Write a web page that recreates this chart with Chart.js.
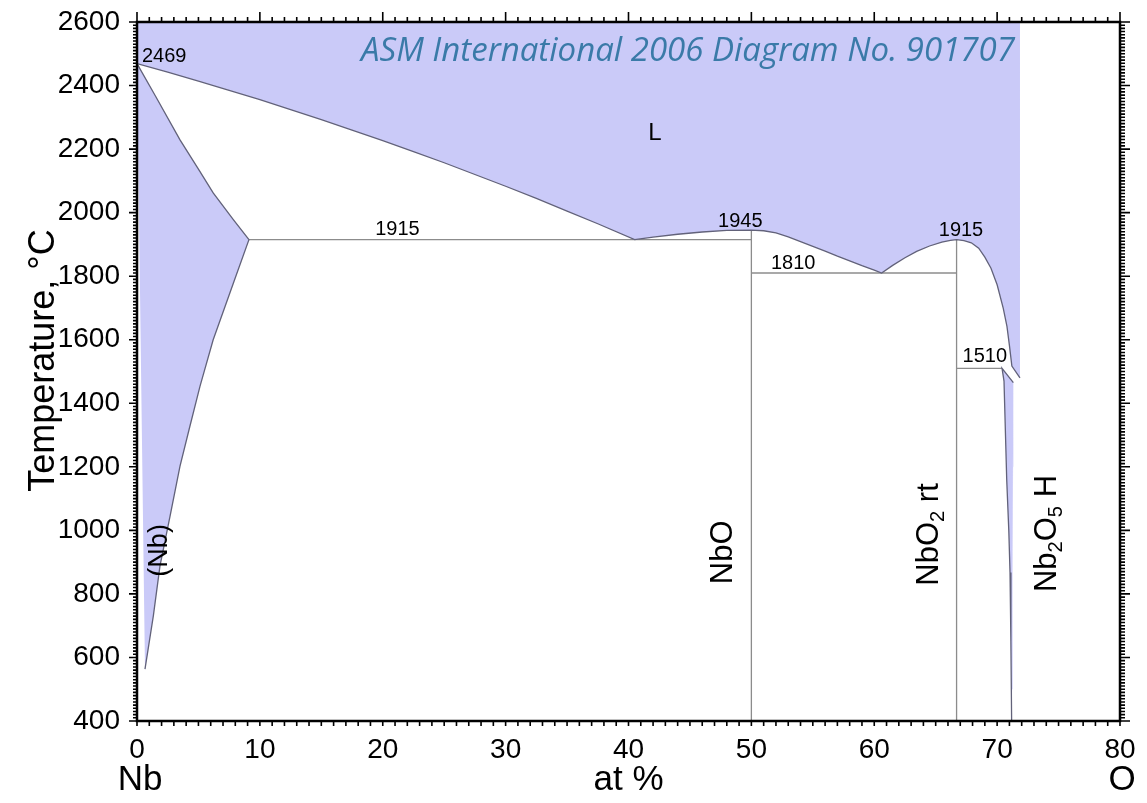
<!DOCTYPE html>
<html>
<head>
<meta charset="utf-8">
<script src="https://cdn.jsdelivr.net/npm/chart.js@4.4.0/dist/chart.umd.min.js"></script>
<style>
  body { margin: 0; background: #fff; }
  #plotGraph { display: block; }
</style>
</head>
<body>
<canvas id="plotGraph" width="1147" height="803"></canvas>
<script>
// Nb-O 状態図 (x: at% O, y: 温度 °C)
const liquidusX = [0, 2.5, 5, 7.5, 10, 12.5, 15, 17.5, 20, 22.5, 25, 27.5, 30, 32.5, 35, 37.5, 40.5,
  42, 44, 46, 48, 50, 51, 52, 53, 54, 55, 56, 57, 58, 59, 60, 60.6,
  61.5, 62.5, 63.45, 64.5, 65.5, 66.2, 66.7, 67.3, 67.9, 68.5, 69, 69.5, 70, 70.5, 70.8, 71, 71.2, 71.86]
const liquidusT = [2469, 2442, 2414, 2385, 2356, 2324, 2293, 2260, 2227, 2192, 2157, 2120, 2083, 2045, 2005, 1965, 1915,
  1923, 1932, 1939, 1944, 1945, 1943, 1936, 1924, 1909, 1894, 1879, 1863, 1848, 1833, 1819, 1810,
  1834, 1858, 1878, 1895, 1907, 1913, 1915, 1912, 1905, 1888, 1860, 1825, 1773, 1699, 1642, 1582, 1517, 1480]

const solidusX = [0, 1.5, 3.5, 5, 6.2, 7.84, 9.11]
const solidusT = [2469, 2367, 2229, 2137, 2062, 1978, 1915]
const solvusX = [7.84, 6.2, 5.13, 4.3, 3.5, 2.69, 1.87, 1.33, 0.65, 0]
const solvusT = [1778, 1600, 1454, 1327, 1202, 1045, 888, 731, 563, 563]

const nb2o5LeftX = [71.32, 70.4, 70.56, 70.78, 70.95, 71.05, 71.12, 71.18]
const nb2o5LeftT = [1465, 1510, 1470, 1160, 1000, 867, 650, 400]
const nb2o5RightX = [71.22, 71.25, 71.27, 71.3, 71.32]
const nb2o5RightT = [500, 700, 867, 1200, 1465]

const isoT = [1915, 1810, 1510]
const isoFrom = [9.11, 50, 66.7]
const isoTo = [50, 66.7, 70.4]

const compoundX = [50, 66.7]
const compoundTop = [1945, 1915]

const atMin = 0, atMax = 80, atMajor = 10
const tMin = 400, tMax = 2600, tMajor = 200

const noteText = ['2469', '1915', '1945', '1810', '1915', '1510', 'L']
const noteX = [2.21, 21.2, 49.1, 53.4, 67.06, 69.0, 42.15]
const noteT = [2493, 1948, 1972, 1840, 1943, 1546, 2251]

const phaseParts = [
  [['(Nb)']],
  [['NbO']],
  [['NbO'], ['2', 1], [' rt']],
  [['Nb'], ['2', 1], ['O'], ['5', 1], [' H']]
]
const phaseX = [1.8, 47.7, 64.5, 74.1]
const phaseT = [937, 931, 987, 990]

const sourceText = 'ASM International 2006 Diagram No. 901707'
const sourceX = 44.84, sourceT = 2478

const FILL = 'rgb(202,202,248)'
const CURVE = '#62627a'
const GRAYLINE = '#8c8c8c'
const FONT = '"Liberation Sans", Arial, Helvetica, sans-serif'

function pts(xs, ys) {
  return xs.map((x, i) => ({ x: x, y: ys[i] }))
}

// テキスト、下付き文字
function drawParts(ctx, parts, size) {
  let w = 0
  parts.forEach(p => {
    ctx.font = (p[1] ? size * 0.65 : size) + 'px ' + FONT
    w += ctx.measureText(p[0]).width
  })
  let cx = -w / 2
  parts.forEach(p => {
    ctx.font = (p[1] ? size * 0.65 : size) + 'px ' + FONT
    ctx.fillText(p[0], cx, p[1] ? size * 0.28 : 0)
    cx += ctx.measureText(p[0]).width
  })
}

const notesPlugin = {
  id: 'notes',
  afterDatasetsDraw(chart) {
    const { ctx, chartArea: a } = chart
    const xs = chart.scales.x, ys = chart.scales.y
    ctx.save()
    ctx.fillStyle = '#000'
    ctx.textAlign = 'center'
    ctx.textBaseline = 'middle'
    noteText.forEach((t, i) => {
      ctx.font = (t === 'L' ? 24 : 20) + 'px ' + FONT
      ctx.fillText(t, xs.getPixelForValue(noteX[i]), ys.getPixelForValue(noteT[i]))
    })
    ctx.textAlign = 'left'
    phaseParts.forEach((parts, i) => {
      ctx.save()
      ctx.translate(xs.getPixelForValue(phaseX[i]), ys.getPixelForValue(phaseT[i]))
      ctx.rotate(-Math.PI / 2)
      drawParts(ctx, parts, i === 0 ? 27 : 31)
      ctx.restore()
    })
    ctx.font = 'italic 33px "Open Sans", sans-serif'
    ctx.fillStyle = '#3a7aa8'
    ctx.textAlign = 'center'
    ctx.textBaseline = 'alphabetic'
    ctx.fillText(sourceText, xs.getPixelForValue(sourceX), ys.getPixelForValue(sourceT))
    // 軸タイトルと端成分
    ctx.fillStyle = '#000'
    ctx.font = '36px ' + FONT
    ctx.textAlign = 'center'
    ctx.textBaseline = 'middle'
    ctx.save()
    ctx.translate(44, (a.top + a.bottom) / 2 - 11)
    ctx.rotate(-Math.PI / 2)
    ctx.fillText('Temperature, °C', 0, 0)
    ctx.restore()
    ctx.font = '35px ' + FONT
    ctx.fillText('Nb', xs.getPixelForValue(atMin) + 3, 780)
    ctx.fillText('O', xs.getPixelForValue(atMax) + 2, 780)
    ctx.restore()
  }
}

const framePlugin = {
  id: 'frame',
  afterDraw(chart) {
    const { ctx, chartArea: a } = chart
    const xs = chart.scales.x, ys = chart.scales.y
    ctx.save()
    ctx.strokeStyle = '#000'
    ctx.lineWidth = 1.6
    ctx.beginPath()
    xs.ticks.forEach(t => {
      const px = xs.getPixelForValue(t.value)
      const major = t.value % atMajor === 0
      ctx.moveTo(px, a.bottom); ctx.lineTo(px, a.bottom + 5)
      ctx.moveTo(px, a.top); ctx.lineTo(px, a.top - (major ? 10 : 5))
    })
    ys.ticks.forEach(t => {
      const py = ys.getPixelForValue(t.value)
      const major = t.value % tMajor === 0
      ctx.moveTo(a.left, py); ctx.lineTo(a.left - (major ? 8 : 4), py)
      ctx.moveTo(a.right, py); ctx.lineTo(a.right + (major ? 10 : 5), py)
    })
    ctx.stroke()
    ctx.lineWidth = 2.5
    ctx.strokeRect(a.left, a.top, a.right - a.left, a.bottom - a.top)
    ctx.restore()
  }
}

const datasets = []
// 液相 L
datasets.push({
  data: pts(liquidusX, liquidusT),
  fill: 'end',
  backgroundColor: FILL,
  borderColor: CURVE,
  borderWidth: 1.3
})
// (Nb) 固溶体
datasets.push({
  data: pts(solidusX, solidusT).concat(pts(solvusX, solvusT)),
  fill: 'shape',
  backgroundColor: FILL,
  borderColor: CURVE,
  borderWidth: 1.3,
  segment: { borderColor: c => (c.p1.parsed.x === 0 ? 'transparent' : undefined) }
})
// Nb2O5 H
const nLeft = nb2o5LeftX.length
datasets.push({
  data: pts(nb2o5LeftX, nb2o5LeftT).concat(pts(nb2o5RightX, nb2o5RightT)),
  fill: 'shape',
  backgroundColor: FILL,
  borderColor: CURVE,
  borderWidth: 1.3,
  segment: { borderColor: c => (c.p0DataIndex >= nLeft - 1 ? 'transparent' : undefined) }
})
isoT.forEach((t, i) => {
  datasets.push({
    data: pts([isoFrom[i], isoTo[i]], [t, t]),
    fill: false,
    borderColor: GRAYLINE,
    borderWidth: 1.3
  })
})
compoundX.forEach((x, i) => {
  datasets.push({
    data: pts([x, x], [compoundTop[i], tMin]),
    fill: false,
    borderColor: GRAYLINE,
    borderWidth: 1.3
  })
})

const chart = new Chart(document.getElementById('plotGraph'), {
  type: 'line',
  data: { datasets: datasets },
  options: {
    responsive: false,
    animation: false,
    devicePixelRatio: 1,
    layout: { padding: { top: 22, right: 27, left: 0, bottom: 0 } },
    elements: { point: { radius: 0 }, line: { tension: 0 } },
    plugins: { legend: { display: false }, tooltip: { enabled: false } },
    scales: {
      x: {
        type: 'linear',
        min: atMin,
        max: atMax,
        afterFit: s => { s.height = 82 },
        grid: { display: false, drawTicks: true, tickLength: 5 },
        border: { display: false },
        ticks: {
          stepSize: 1,
          autoSkip: false,
          maxRotation: 0,
          minRotation: 0,
          padding: 7,
          color: '#000',
          font: { size: 28, family: FONT },
          callback: v => (v % atMajor === 0 ? v : '')
        },
        title: {
          display: true,
          text: 'at %',
          color: '#000',
          font: { size: 35, family: FONT },
          padding: { top: 0, bottom: 2 }
        }
      },
      y: {
        type: 'linear',
        min: tMin,
        max: tMax,
        afterFit: s => { s.width = 137 },
        grid: { display: false, drawTicks: true, tickLength: 13 },
        border: { display: false },
        ticks: {
          stepSize: 10,
          autoSkip: false,
          padding: 4,
          color: '#000',
          font: { size: 28, family: FONT },
          callback: v => (v % tMajor === 0 ? v : '')
        }
      }
    }
  },
  plugins: [notesPlugin, framePlugin]
})
</script>
</body>
</html>
